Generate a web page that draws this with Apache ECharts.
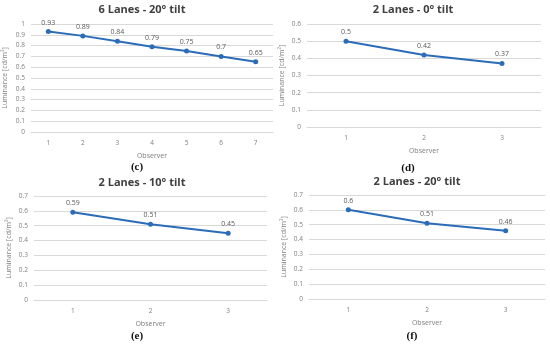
<!DOCTYPE html>
<html><head><meta charset="utf-8">
<script src="https://cdn.jsdelivr.net/npm/echarts@6/dist/echarts.min.js"></script>
<style>html,body{margin:0;padding:0;background:#fff}#c{width:550px;height:344px}</style>
</head><body><div id="c"></div>
<script>
const catsC = ['1','2','3','4','5','6','7'];
const valsC = [0.93, 0.89, 0.84, 0.79, 0.75, 0.7, 0.65];
const catsD = ['1','2','3'];
const valsD = [0.5, 0.42, 0.37];
const catsE = ['1','2','3'];
const valsE = [0.59, 0.51, 0.45];
const catsF = ['1','2','3'];
const valsF = [0.6, 0.51, 0.46];
const titles = ['6 Lanes - 20° tilt', '2 Lanes - 0° tilt', '2 Lanes - 10° tilt', '2 Lanes - 20° tilt'];
const panelTags = ['(c)', '(d)', '(e)', '(f)'];
const yMax = [1, 0.6, 0.7, 0.7];
const xName = 'Observer';
const yName = 'Luminance [cd/m²]';

const cats = [catsC, catsD, catsE, catsF];
const vals = [valsC, valsD, valsE, valsF];
const grids = [
  {left: 31, right: 277, top: 24, bottom: 212},
  {left: 307, right: 9, top: 24, bottom: 217},
  {left: 34, right: 283, top: 196, bottom: 44},
  {left: 309, right: 5, top: 195, bottom: 45}
];
const titlePos = [[137, 7], [408, 7], [137, 180], [412, 179]];
const tagPos = [[137, 167], [408, 168], [137, 336], [412, 336]];
const FONT = 'Open Sans';
const BLUE = '#2b6cb8';
const GREY = '#7f7f7f';

const option = {
  animation: false,
  backgroundColor: '#fff',
  title: titles.map((t, i) => ({
    text: t, left: titlePos[i][0], top: titlePos[i][1] - 8, textAlign: 'center',
    textStyle: {fontFamily: FONT, fontSize: 11, fontWeight: 'bold', color: '#404040'}
  })),
  graphic: panelTags.map((t, i) => ({
    type: 'text', x: tagPos[i][0], y: tagPos[i][1],
    style: {text: t, font: 'bold 11px "Liberation Serif"', fill: '#111', textAlign: 'center', textVerticalAlign: 'middle'}
  })),
  grid: grids,
  xAxis: cats.map((c, i) => ({
    type: 'category', gridIndex: i, data: c, boundaryGap: true,
    name: xName, nameLocation: 'middle', nameGap: 20,
    nameTextStyle: {fontFamily: FONT, fontSize: 7, color: GREY},
    axisLine: {lineStyle: {color: '#d9d9d9'}}, axisTick: {show: false},
    axisLabel: {fontFamily: FONT, fontSize: 6.5, color: GREY, margin: 8}
  })),
  yAxis: yMax.map((m, i) => ({
    type: 'value', gridIndex: i, min: 0, max: m, interval: 0.1,
    name: yName, nameLocation: 'middle', nameGap: i === 0 ? 23 : 22,
    nameTextStyle: {fontFamily: FONT, fontSize: 7, color: GREY},
    axisLine: {show: false}, axisTick: {show: false},
    splitLine: {lineStyle: {color: '#d9d9d9', width: 1}},
    axisLabel: {fontFamily: FONT, fontSize: 6.5, color: GREY, margin: 6,
      formatter: v => String(Math.round(v * 10) / 10)}
  })),
  series: vals.map((v, i) => ({
    type: 'line', xAxisIndex: i, yAxisIndex: i, data: v,
    lineStyle: {color: BLUE, width: 2}, itemStyle: {color: BLUE},
    symbol: 'circle', symbolSize: 5,
    label: {show: true, position: 'top', distance: 3, fontFamily: FONT, fontSize: 7, color: '#595959'}
  }))
};
echarts.init(document.getElementById('c')).setOption(option);
</script></body></html>
